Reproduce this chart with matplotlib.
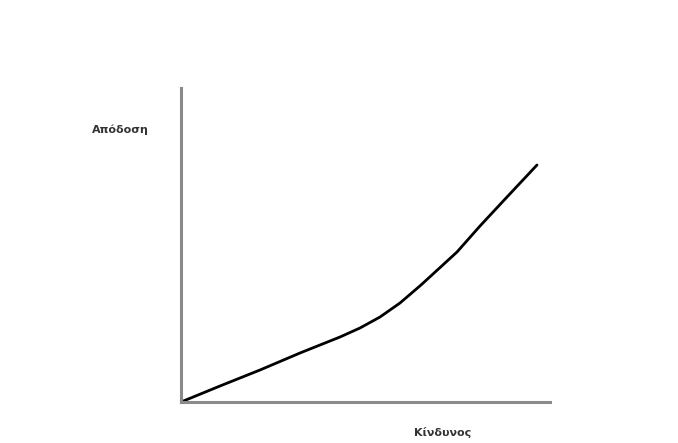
import matplotlib
matplotlib.use("Agg")
import matplotlib.pyplot as plt

# Risk (x) vs return (y), in arbitrary units
risk = [0, 39, 79, 119, 159, 179, 199, 219, 240, 276, 299, 326, 356]
ret = [0, 16, 32, 49, 65, 74, 85, 99, 117, 150, 176, 205, 237]
x_label = "Κίνδυνος"
y_label = "Απόδοση"

fig = plt.figure(figsize=(6.78, 4.43), dpi=100)
ax = fig.add_axes([181/678, 41/443, 369/678, 314/443])
ax.plot(risk, ret, color="black", lw=2.0, solid_capstyle="round",
        solid_joinstyle="round")
ax.set_xlim(0, 369)
ax.set_ylim(0, 314)
for s in ["top", "right"]:
    ax.spines[s].set_visible(False)
for s in ["left", "bottom"]:
    ax.spines[s].set_color("#8a8a8a")
    ax.spines[s].set_linewidth(2.2)
ax.set_xticks([])
ax.set_yticks([])
ax.patch.set_alpha(0)

fig.text(120/678, 1 - 130/443, y_label, ha="center", va="center",
         fontsize=8, fontweight="bold", color="#333333")
fig.text(443/678, 1 - 432/443, x_label, ha="center", va="center",
         fontsize=8, fontweight="bold", color="#333333")

fig.savefig("out.png", dpi=100)
